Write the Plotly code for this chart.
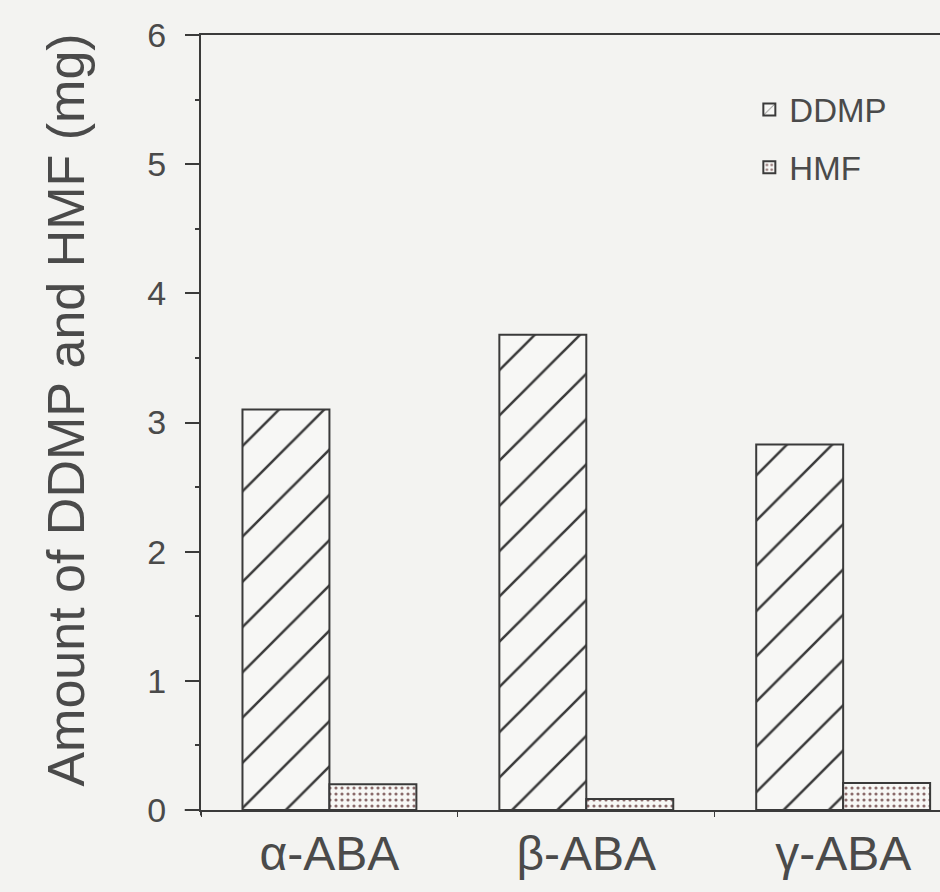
import plotly.graph_objects as go

categories = ["α-ABA", "β-ABA", "γ-ABA"]
ddmp = [3.10, 3.68, 2.83]
hmf = [0.20, 0.085, 0.21]
y_ticks = [0, 1, 2, 3, 4, 5, 6]

LINE = "#3a3a3a"
TEXT = "#4a4a4a"
BG = "#f3f3f1"
FONT = "Liberation Sans, Arial, sans-serif"

fig = go.Figure()
fig.add_trace(go.Bar(
    name="DDMP", x=categories, y=ddmp, legendgroup="a",
    marker=dict(color="#f7f7f5", line=dict(color=LINE, width=2),
                pattern=dict(shape="/", size=32, solidity=0.08,
                             fgcolor=LINE, bgcolor="#f7f7f5", fillmode="replace")),
))
fig.add_trace(go.Bar(
    name="HMF", x=categories, y=hmf, legendgroup="b",
    marker=dict(color="#f7f7f5", line=dict(color=LINE, width=2),
                pattern=dict(shape=".", size=6, solidity=0.22,
                             fgcolor="#8a6a6a", bgcolor="#f7f7f5", fillmode="replace")),
))

fig.update_layout(
    width=940, height=892,
    margin=dict(l=201, r=0, t=35, b=82),
    paper_bgcolor=BG, plot_bgcolor=BG,
    font=dict(family=FONT, color=TEXT),
    barmode="group", bargap=0.323, bargroupgap=0,
    showlegend=True,
    legend=dict(x=0.742, y=0.94, xanchor="left", yanchor="top",
                bgcolor="rgba(0,0,0,0)", font=dict(size=33, color=TEXT),
                tracegroupgap=12, itemwidth=30),
    xaxis=dict(type="category", range=[-0.5, 2.377],
               showline=True, linecolor=LINE, linewidth=2, mirror=True,
               ticks="outside", tickson="boundaries", ticklen=5, tickcolor=LINE,
               tickfont=dict(size=48, color=TEXT), showgrid=False,
               ticklabelstandoff=0),
    yaxis=dict(range=[0, 6], tickvals=y_ticks, showline=True, linecolor=LINE, linewidth=2,
               ticks="outside", ticklen=14, tickwidth=2, tickcolor=LINE,
               tickfont=dict(size=34, color=TEXT), showgrid=False, zeroline=False,
               ticklabelstandoff=12,
               minor=dict(dtick=0.5, ticks="outside", ticklen=4, tickcolor=LINE, showgrid=False)),
    annotations=[dict(text="Amount of DDMP and HMF (mg)", xref="paper", yref="paper",
                      x=-0.182, y=0.516, xanchor="center", yanchor="middle",
                      textangle=-90, showarrow=False,
                      font=dict(size=52, color=TEXT, family=FONT))],
    shapes=[
        dict(type="line", xref="paper", yref="paper", x0=-0.022, x1=0, y0=0, y1=0,
             line=dict(color=LINE, width=2)),
        dict(type="line", xref="paper", yref="paper", x0=-0.019, x1=0, y0=1, y1=1,
             line=dict(color=LINE, width=2)),
        dict(type="line", xref="paper", yref="paper", x0=0, x1=0, y0=-0.007, y1=0,
             line=dict(color=LINE, width=2)),
    ],
)

fig.write_html("out.html", config={"displayModeBar": False},
               post_script="document.body.style.margin='0';document.body.style.background='%s';" % BG)
